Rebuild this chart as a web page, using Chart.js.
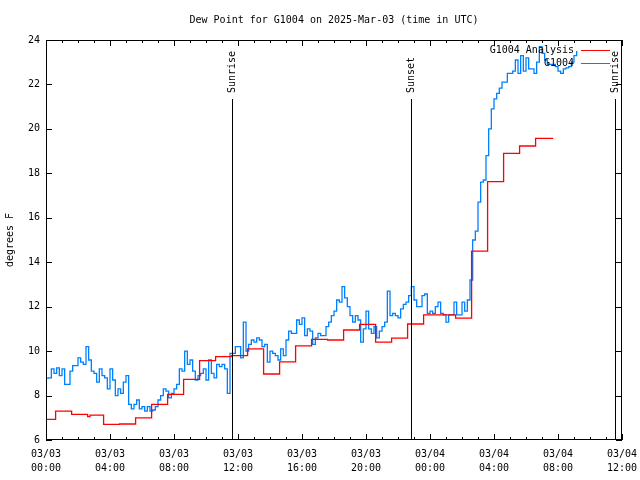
<!DOCTYPE html>
<html>
<head>
<meta charset="utf-8">
<script src="https://cdn.jsdelivr.net/npm/chart.js@4.4.1/dist/chart.umd.min.js"></script>
<style>
  html, body { margin: 0; padding: 0; background: #fff; }
</style>
</head>
<body>
<canvas id="dewChart" width="640" height="480"></canvas>
<script>
// hours since 03/03 00:00 UTC
const xTickHours = [0, 4, 8, 12, 16, 20, 24, 28, 32, 36];
const yTickValues = [6, 8, 10, 12, 14, 16, 18, 20, 22, 24];

// analysis (red), hourly steps
const redTimes = [0, 0.6, 1.6, 2.6, 2.75, 3.6, 4.6, 5.6, 6.6, 7.6, 8.6, 9.6, 10.6, 11.6, 12.6, 13.6, 14.6, 15.6,
  16.6, 17.6, 18.6, 19.6, 20.6, 21.6, 22.6, 23.6, 24.6, 25.6, 26.6, 27.6, 28.6, 29.6, 30.6, 31.7];
const redValues = [6.93, 7.3, 7.15, 7.05, 7.12, 6.7, 6.72, 7.0, 7.6, 8.05, 8.73, 9.57, 9.75, 9.8, 10.1, 8.97, 9.52, 10.24,
  10.53, 10.5, 10.95, 11.2, 10.4, 10.58, 11.22, 11.63, 11.63, 11.48, 14.5, 17.63, 18.9, 19.23, 19.57, 19.57];

// station obs (blue), one value every 10 minutes from 00:00
const blueStepMin = 10;
const blueValues = [
  8.78, 8.8, 9.2, 9.0, 9.25, 8.9, 9.2, 8.5, 8.5, 9.1,
  9.35, 9.35, 9.7, 9.5, 9.4, 10.2, 9.6, 9.1, 9.0, 8.6,
  9.2, 8.9, 8.8, 8.3, 9.2, 8.7, 8.0, 8.3, 8.1, 8.6,
  8.9, 7.6, 7.4, 7.6, 7.8, 7.4, 7.5, 7.3, 7.5, 7.3,
  7.35, 7.5, 7.8, 8.0, 8.3, 8.2, 7.9, 8.1, 8.3, 8.5,
  9.2, 9.1, 10.0, 9.4, 9.6, 9.1, 8.7, 8.9, 9.0, 9.2,
  8.7, 9.6, 9.0, 8.8, 9.4, 9.3, 9.4, 9.2, 8.1, 9.9,
  9.9, 10.2, 10.2, 9.7, 11.3, 10.0, 10.3, 10.5, 10.4, 10.6,
  10.5, 10.2, 10.3, 9.5, 10.0, 9.9, 9.8, 9.6, 10.1, 9.8,
  10.5, 10.9, 10.8, 10.8, 11.4, 11.2, 11.5, 10.7, 11.0, 10.9,
  10.3, 10.6, 10.8, 10.7, 10.7, 11.1, 11.3, 11.6, 11.8, 12.3,
  12.2, 12.9, 12.4, 12.0, 11.6, 11.3, 11.6, 11.4, 10.4, 11.0,
  11.8, 11.0, 10.8, 11.1, 10.6, 10.9, 11.1, 11.3, 12.7, 11.6,
  11.7, 11.6, 11.5, 11.9, 12.1, 12.2, 12.5, 12.9, 12.3, 12.0,
  12.0, 12.5, 12.57, 11.7, 11.8, 11.7, 12.0, 12.2, 11.7, 11.63,
  11.3, 11.63, 11.63, 12.2, 11.63, 11.63, 12.2, 11.8, 12.3, 13.2,
  15.0, 15.4, 16.7, 17.6, 17.7, 18.8, 20.0, 20.9, 21.35, 21.6,
  21.83, 22.1, 22.1, 22.5, 22.5, 22.6, 23.1, 22.5, 23.3, 22.6,
  23.2, 22.7, 22.7, 22.5, 23.0, 23.7, 23.4, 23.1, 22.9, 22.9,
  22.9, 22.8, 22.6, 22.5, 22.7, 22.75, 22.8, 23.0, 23.3, 23.5
];

// sunrise / sunset markers (hours)
const sunNames = ["Sunrise", "Sunset", "Sunrise"];
const sunHours = [11.62, 22.81, 35.56];

const seriesNames = ["G1004 Analysis", "G1004"];
const seriesColors = ["#ff0000", "#0080ff"];

const FONT = '"DejaVu Sans Mono", "Liberation Mono", monospace';

const redPoints = redTimes.map((t, i) => ({ x: t, y: redValues[i] }));
const bluePoints = blueValues.map((v, i) => ({ x: i * blueStepMin / 60, y: v }));

function pad2(n) { return (n < 10 ? "0" : "") + n; }

// gnuplot-like frame: box, inward ticks, sun lines, key
const framePlugin = {
  id: "frame",
  afterDatasetsDraw(chart) {
    const ctx = chart.ctx;
    const a = chart.chartArea;
    const xs = chart.scales.x;
    const ys = chart.scales.y;
    ctx.save();
    ctx.strokeStyle = "#000";
    ctx.lineWidth = 1;
    ctx.strokeRect(a.left + 0.5, a.top + 0.5, a.right - a.left - 1, a.bottom - a.top - 1);

    ctx.beginPath();
    for (let h = 0; h <= 36; h++) {
      const px = Math.round(xs.getPixelForValue(h)) + 0.5;
      const len = h % 4 === 0 ? 6 : 3;
      ctx.moveTo(px, a.bottom); ctx.lineTo(px, a.bottom - len);
      ctx.moveTo(px, a.top); ctx.lineTo(px, a.top + len);
    }
    yTickValues.forEach(v => {
      const py = Math.round(ys.getPixelForValue(v)) + 0.5;
      ctx.moveTo(a.left, py); ctx.lineTo(a.left + 6, py);
      ctx.moveTo(a.right, py); ctx.lineTo(a.right - 6, py);
    });
    ctx.stroke();

    // sunrise / sunset
    ctx.font = "10px " + FONT;
    ctx.fillStyle = "#000";
    sunHours.forEach((h, i) => {
      const px = Math.round(xs.getPixelForValue(h)) + 0.5;
      ctx.beginPath();
      ctx.moveTo(px, a.bottom);
      ctx.lineTo(px, a.top + 59);
      ctx.stroke();
      ctx.save();
      ctx.translate(px, a.top + 53);
      ctx.rotate(-Math.PI / 2);
      ctx.textAlign = "left";
      ctx.textBaseline = "middle";
      ctx.fillText(sunNames[i], 0, 0);
      ctx.restore();
    });

    // key
    ctx.textAlign = "right";
    ctx.textBaseline = "middle";
    seriesNames.forEach((name, i) => {
      const ky = a.top + 10 + i * 13;
      ctx.fillStyle = "#000";
      ctx.fillText(name, a.right - 48, ky);
      ctx.strokeStyle = seriesColors[i];
      ctx.beginPath();
      ctx.moveTo(a.right - 41, ky + 0.5);
      ctx.lineTo(a.right - 12, ky + 0.5);
      ctx.stroke();
    });
    ctx.restore();
  }
};

new Chart(document.getElementById("dewChart"), {
  type: "line",
  data: {
    datasets: [
      {
        label: seriesNames[0],
        data: redPoints,
        borderColor: seriesColors[0],
        borderWidth: 1.3,
        pointRadius: 0,
        stepped: true
      },
      {
        label: seriesNames[1],
        data: bluePoints,
        borderColor: seriesColors[1],
        borderWidth: 1.3,
        pointRadius: 0,
        stepped: true
      }
    ]
  },
  options: {
    responsive: false,
    animation: false,
    layout: { padding: { left: 0, right: 18, top: 0, bottom: 0 } },
    plugins: {
      legend: { display: false },
      tooltip: { enabled: false },
      title: {
        display: true,
        fullSize: false,
        text: "Dew Point for G1004 on 2025-Mar-03 (time in UTC)",
        color: "#000",
        font: { family: FONT, size: 10, weight: "normal", lineHeight: 1.2 },
        padding: { top: 14, bottom: 14 }
      }
    },
    scales: {
      x: {
        type: "linear",
        min: 0,
        max: 36,
        grid: { display: false, drawTicks: false },
        border: { display: false },
        afterFit: s => { s.height = 40; s.paddingLeft = 0; s.paddingRight = 0; },
        afterBuildTicks: s => { s.ticks = xTickHours.map(v => ({ value: v })); },
        ticks: {
          autoSkip: false,
          maxRotation: 0,
          padding: 7,
          color: "#000",
          font: { family: FONT, size: 10, lineHeight: 1.4 },
          callback: v => [v < 24 ? "03/03" : "03/04", pad2(v % 24) + ":00"]
        }
      },
      y: {
        min: 6,
        max: 24,
        grid: { display: false, drawTicks: false },
        border: { display: false },
        afterFit: s => { s.width = 46; s.paddingTop = 0; s.paddingBottom = 0; },
        afterBuildTicks: s => { s.ticks = yTickValues.map(v => ({ value: v })); },
        ticks: {
          padding: 6,
          color: "#000",
          font: { family: FONT, size: 10 }
        },
        title: {
          display: true,
          text: "degrees F",
          color: "#000",
          font: { family: FONT, size: 10, lineHeight: 1.2 },
          padding: { top: 4, bottom: 0 }
        }
      }
    }
  },
  plugins: [framePlugin]
});
</script>
</body>
</html>
